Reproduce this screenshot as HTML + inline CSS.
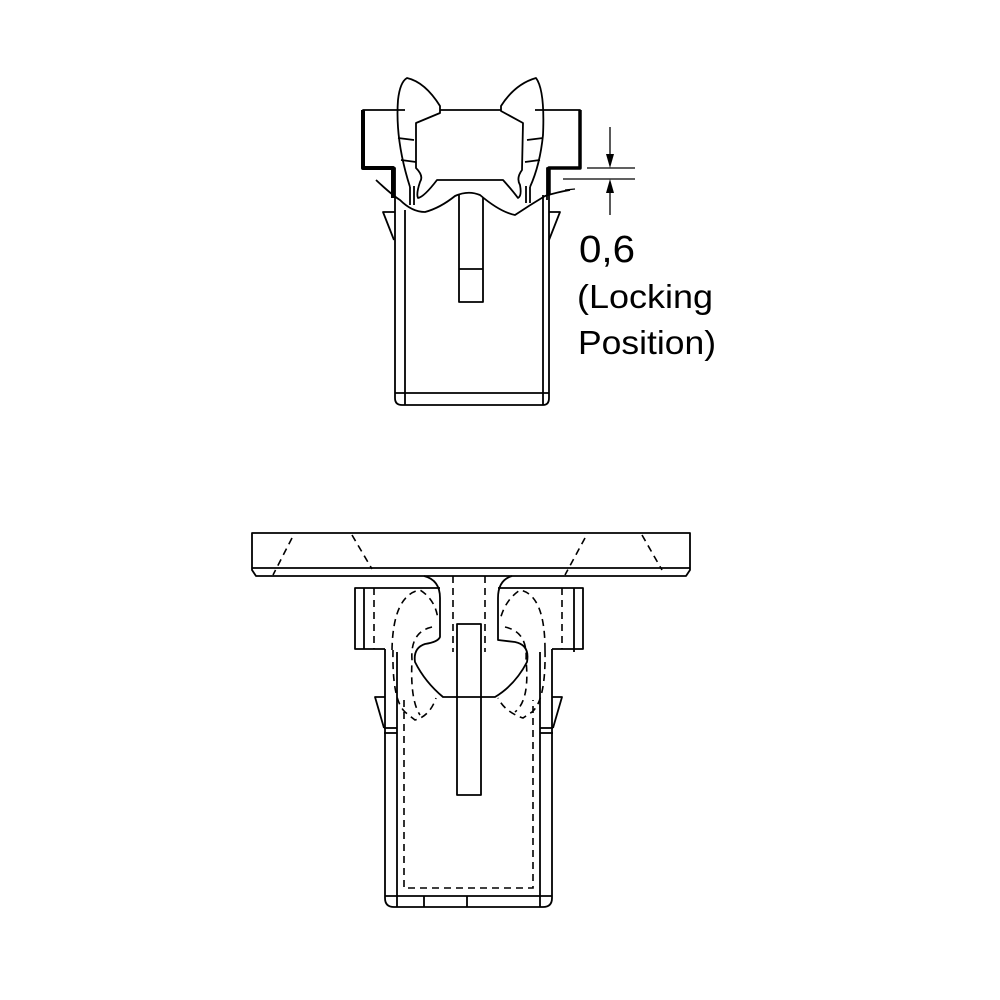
<!DOCTYPE html>
<html><head><meta charset="utf-8"><style>
html,body{margin:0;padding:0;background:#fff;}
svg{display:block}
text{font-family:"Liberation Sans",Arial,sans-serif;fill:#000}
</style></head><body>
<svg width="1000" height="1000" viewBox="0 0 1000 1000" xmlns="http://www.w3.org/2000/svg">
<g fill="none" stroke="#000" stroke-width="1.8" stroke-linejoin="round">
<path d="M405,110 L363,110 L363,168 L395,168 L395,200" />
<path d="M363,110 L363,168 L393,168 L393,198" stroke-width="4"/>
<path d="M535,110 L580,110 L580,168 L547,168 L547,200"/>
<path d="M580,110 L580,168 L549,168 L549,195" stroke-width="3.5"/>
<line x1="440" y1="110" x2="501" y2="110"/>
<path d="M395,200 L395,398 Q395,405 402,405 L543,405 Q549,405 549,398 L549,190"/>
<line x1="405" y1="210" x2="405" y2="405"/>
<line x1="543" y1="195" x2="543" y2="405"/>
<line x1="395" y1="393" x2="549" y2="393"/>
<path d="M395,212 L383,212 L394,240"/>
<path d="M549,212 L560,212 L549,240"/>
<path d="M459,195 L459,302 L483,302 L483,198"/>
<line x1="459" y1="269" x2="483" y2="269"/>
<path d="M376,180 Q392,195 400,200 Q412,212 425,212 Q440,208 455,196 Q468,190 480,195 Q500,212 515,215 Q530,205 545,196 Q558,192 570,190"/>
<path d="M410,187 Q395,140 398,100 Q400,82 407,78 Q425,82 440,106 L440,113 L416,123 L416,168 Q424,176 420,182 Q416,194 418,198 Q424,197 437,180 L503,180 Q512,190 518,198 Q522,196 520,185 Q516,178 522,170 L523,123 L501,111 L501,106 Q515,84 536,78 Q545,90 543,135 Q540,165 530,187"/>
<line x1="398" y1="138" x2="414" y2="140"/>
<line x1="401" y1="160" x2="416" y2="162"/>
<line x1="527" y1="140" x2="543" y2="138"/>
<line x1="525" y1="162" x2="540" y2="160"/>
<line x1="410" y1="187" x2="410" y2="205"/>
<line x1="414" y1="186" x2="414" y2="205"/>
<line x1="530" y1="187" x2="530" y2="203"/>
<line x1="526" y1="186" x2="526" y2="203"/>
<line x1="587" y1="168" x2="635" y2="168" stroke-width="1.3"/>
<line x1="563" y1="179" x2="635" y2="179" stroke-width="1.3"/>
<line x1="565" y1="190" x2="575" y2="189" stroke-width="1.3"/>
<line x1="610" y1="127" x2="610" y2="160" stroke-width="1.3"/>
<line x1="610" y1="187" x2="610" y2="215" stroke-width="1.3"/>
</g>
<path d="M606,154 L614,154 L610,168 Z" fill="#000"/>
<path d="M606,193 L614,193 L610,179 Z" fill="#000"/>
<text x="579" y="262" font-size="38" textLength="56" lengthAdjust="spacingAndGlyphs">0,6</text>
<text x="577" y="308" font-size="33" textLength="136" lengthAdjust="spacingAndGlyphs">(Locking</text>
<text x="578" y="354" font-size="33" textLength="138" lengthAdjust="spacingAndGlyphs">Position)</text>

<g fill="none" stroke="#000" stroke-width="1.8" stroke-linejoin="round">
<path d="M252,533 L690,533 L690,570 L686,576 L256,576 L252,570 Z"/>
<line x1="252" y1="568" x2="690" y2="568"/>
<path d="M424,576 Q440,580 440,598 L440,637 Q438,642 425,644 Q413,648 415,662 Q425,682 443,697 L495,697 Q515,685 527,662 Q530,645 515,642 L498,640 L498,598 Q498,580 512,576"/>
<path d="M440,588 L355,588 L355,649 L385,649"/>
<path d="M498,588 L583,588 L583,649 L552,649"/>
<line x1="364" y1="588" x2="364" y2="649"/>
<line x1="574" y1="588" x2="574" y2="652"/>
<path d="M385,649 L385,898 Q385,907 394,907 L543,907 Q552,907 552,898 L552,649"/>
<line x1="397" y1="652" x2="397" y2="907"/>
<line x1="540" y1="652" x2="540" y2="907"/>
<line x1="385" y1="896" x2="552" y2="896"/>
<line x1="424" y1="896" x2="424" y2="907"/>
<line x1="467" y1="896" x2="467" y2="907"/>
<path d="M385,697 L375,697 L384,728"/>
<path d="M552,697 L562,697 L553,728"/>
<line x1="384" y1="728" x2="397" y2="728"/>
<line x1="384" y1="733" x2="397" y2="733"/>
<line x1="540" y1="728" x2="553" y2="728"/>
<line x1="540" y1="733" x2="553" y2="733"/>
<rect x="457" y="624" width="24" height="171"/>
</g>
<g fill="none" stroke="#000" stroke-width="1.6" stroke-dasharray="7,5">
<line x1="292" y1="538" x2="273" y2="575"/>
<line x1="352" y1="535" x2="372" y2="569"/>
<line x1="585" y1="538" x2="565" y2="575"/>
<line x1="642" y1="535" x2="662" y2="570"/>
<line x1="453" y1="576" x2="453" y2="652"/>
<line x1="485" y1="576" x2="485" y2="652"/>
<line x1="374" y1="588" x2="374" y2="649"/>
<line x1="562" y1="588" x2="562" y2="649"/>
<path d="M404,700 L404,888 L533,888 L533,700"/>
<path d="M392,650 Q393,595 420,590 Q436,600 438,620"/>
<path d="M545,650 Q545,595 520,590 Q505,600 500,620"/>
<path d="M432,627 Q410,632 412,660 Q410,700 420,715"/>
<path d="M505,627 Q528,632 526,660 Q530,700 515,712"/>
<path d="M393,650 Q392,700 405,712 L415,720 Q430,716 436,698"/>
<path d="M545,650 Q546,700 532,712 L523,718 Q505,712 498,698"/>
</g>
</svg>
</body></html>
